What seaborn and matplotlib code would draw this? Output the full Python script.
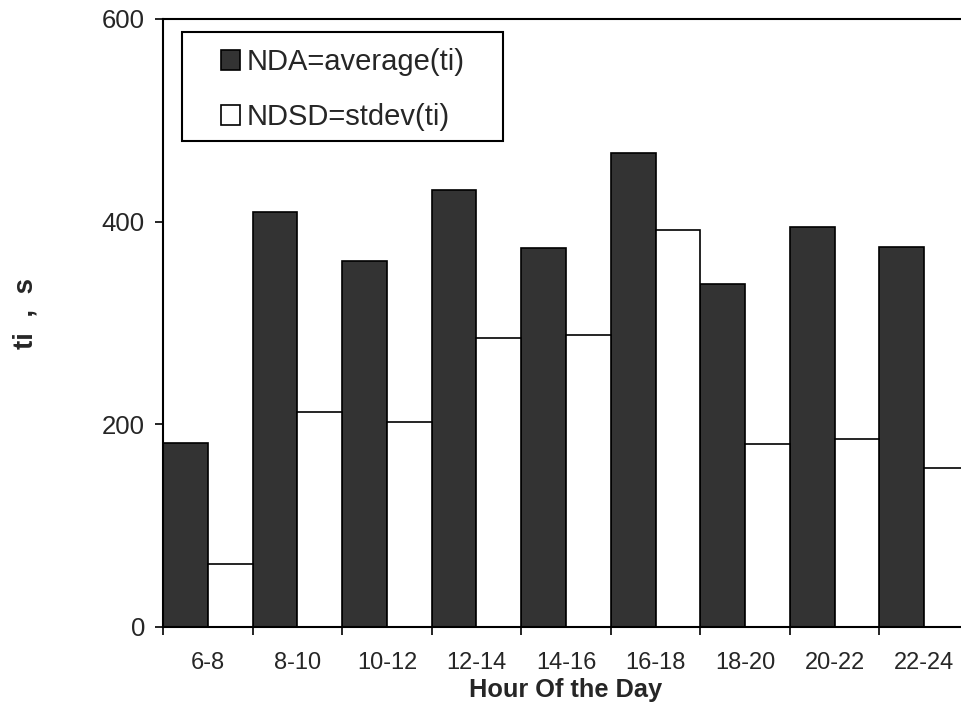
import numpy as np
import pandas as pd
import seaborn as sns
import matplotlib.pyplot as plt
from matplotlib.patches import Rectangle

# values
hours = ['6-8', '8-10', '10-12', '12-14', '14-16', '16-18', '18-20', '20-22', '22-24']
nda = [182, 410, 361, 431, 374, 468, 338, 395, 375]
ndsd = [62, 212, 202, 285, 288, 392, 181, 186, 157]
series = ['NDA=average(ti)', 'NDSD=stdev(ti)']

data = pd.DataFrame({
    'Hour': hours * 2,
    'Series': [series[0]] * len(hours) + [series[1]] * len(hours),
    'ti': nda + ndsd,
})

sns.set_style('white')
plt.rcParams['font.family'] = ['Liberation Sans', 'DejaVu Sans']

fig = plt.figure(figsize=(9.62, 7.09), dpi=100)
ax = fig.add_axes([163 / 962, 82 / 709, 806 / 962, 608 / 709])

sns.barplot(data=data, x='Hour', y='ti', hue='Series', order=hours,
            hue_order=series, palette={series[0]: '#333333', series[1]: 'white'},
            width=1.0, edgecolor='black', linewidth=1.2, saturation=1, ax=ax)

ax.set_xlim(-0.5, 8.5)
ax.set_ylim(0, 600)
ax.set_yticks([0, 200, 400, 600])

# ticks on category boundaries, labels centred on categories
ax.set_xticks(np.arange(-0.5, 9, 1))
ax.set_xticklabels([])
ax.set_xticks(range(len(hours)), minor=True)
ax.set_xticklabels(hours, minor=True)
ax.tick_params(axis='x', which='major', direction='out', length=6, width=1.2,
               bottom=True, color='black')
ax.tick_params(axis='x', which='minor', length=0, pad=18, labelsize=17)
ax.tick_params(axis='y', direction='out', length=6, width=1.2, left=True,
               color='black', pad=7, labelsize=18.5)

for s in ax.spines.values():
    s.set_color('black')
    s.set_linewidth(1.5)

ax.set_xlabel('Hour Of the Day', fontsize=18.3, fontweight='bold', labelpad=3)
ax.set_ylabel('ti  ,  s', fontsize=20, fontweight='bold')
ax.yaxis.set_label_coords(-0.154, 0.516)

# legend without its own frame, boxed by a wider rectangle like the original
ax.legend(loc='upper left', bbox_to_anchor=(0.072, 0.952), fontsize=21,
          frameon=False, handlelength=0.65, handleheight=0.65,
          handletextpad=0.24, labelspacing=0.93, borderpad=0, borderaxespad=0)
ax.add_artist(Rectangle((182 / 962, 1 - 141 / 709), 321 / 962, 109 / 709,
                        transform=fig.transFigure, facecolor='white',
                        edgecolor='black', linewidth=1.5, zorder=4.5))

fig.savefig('out.png', dpi=100)
